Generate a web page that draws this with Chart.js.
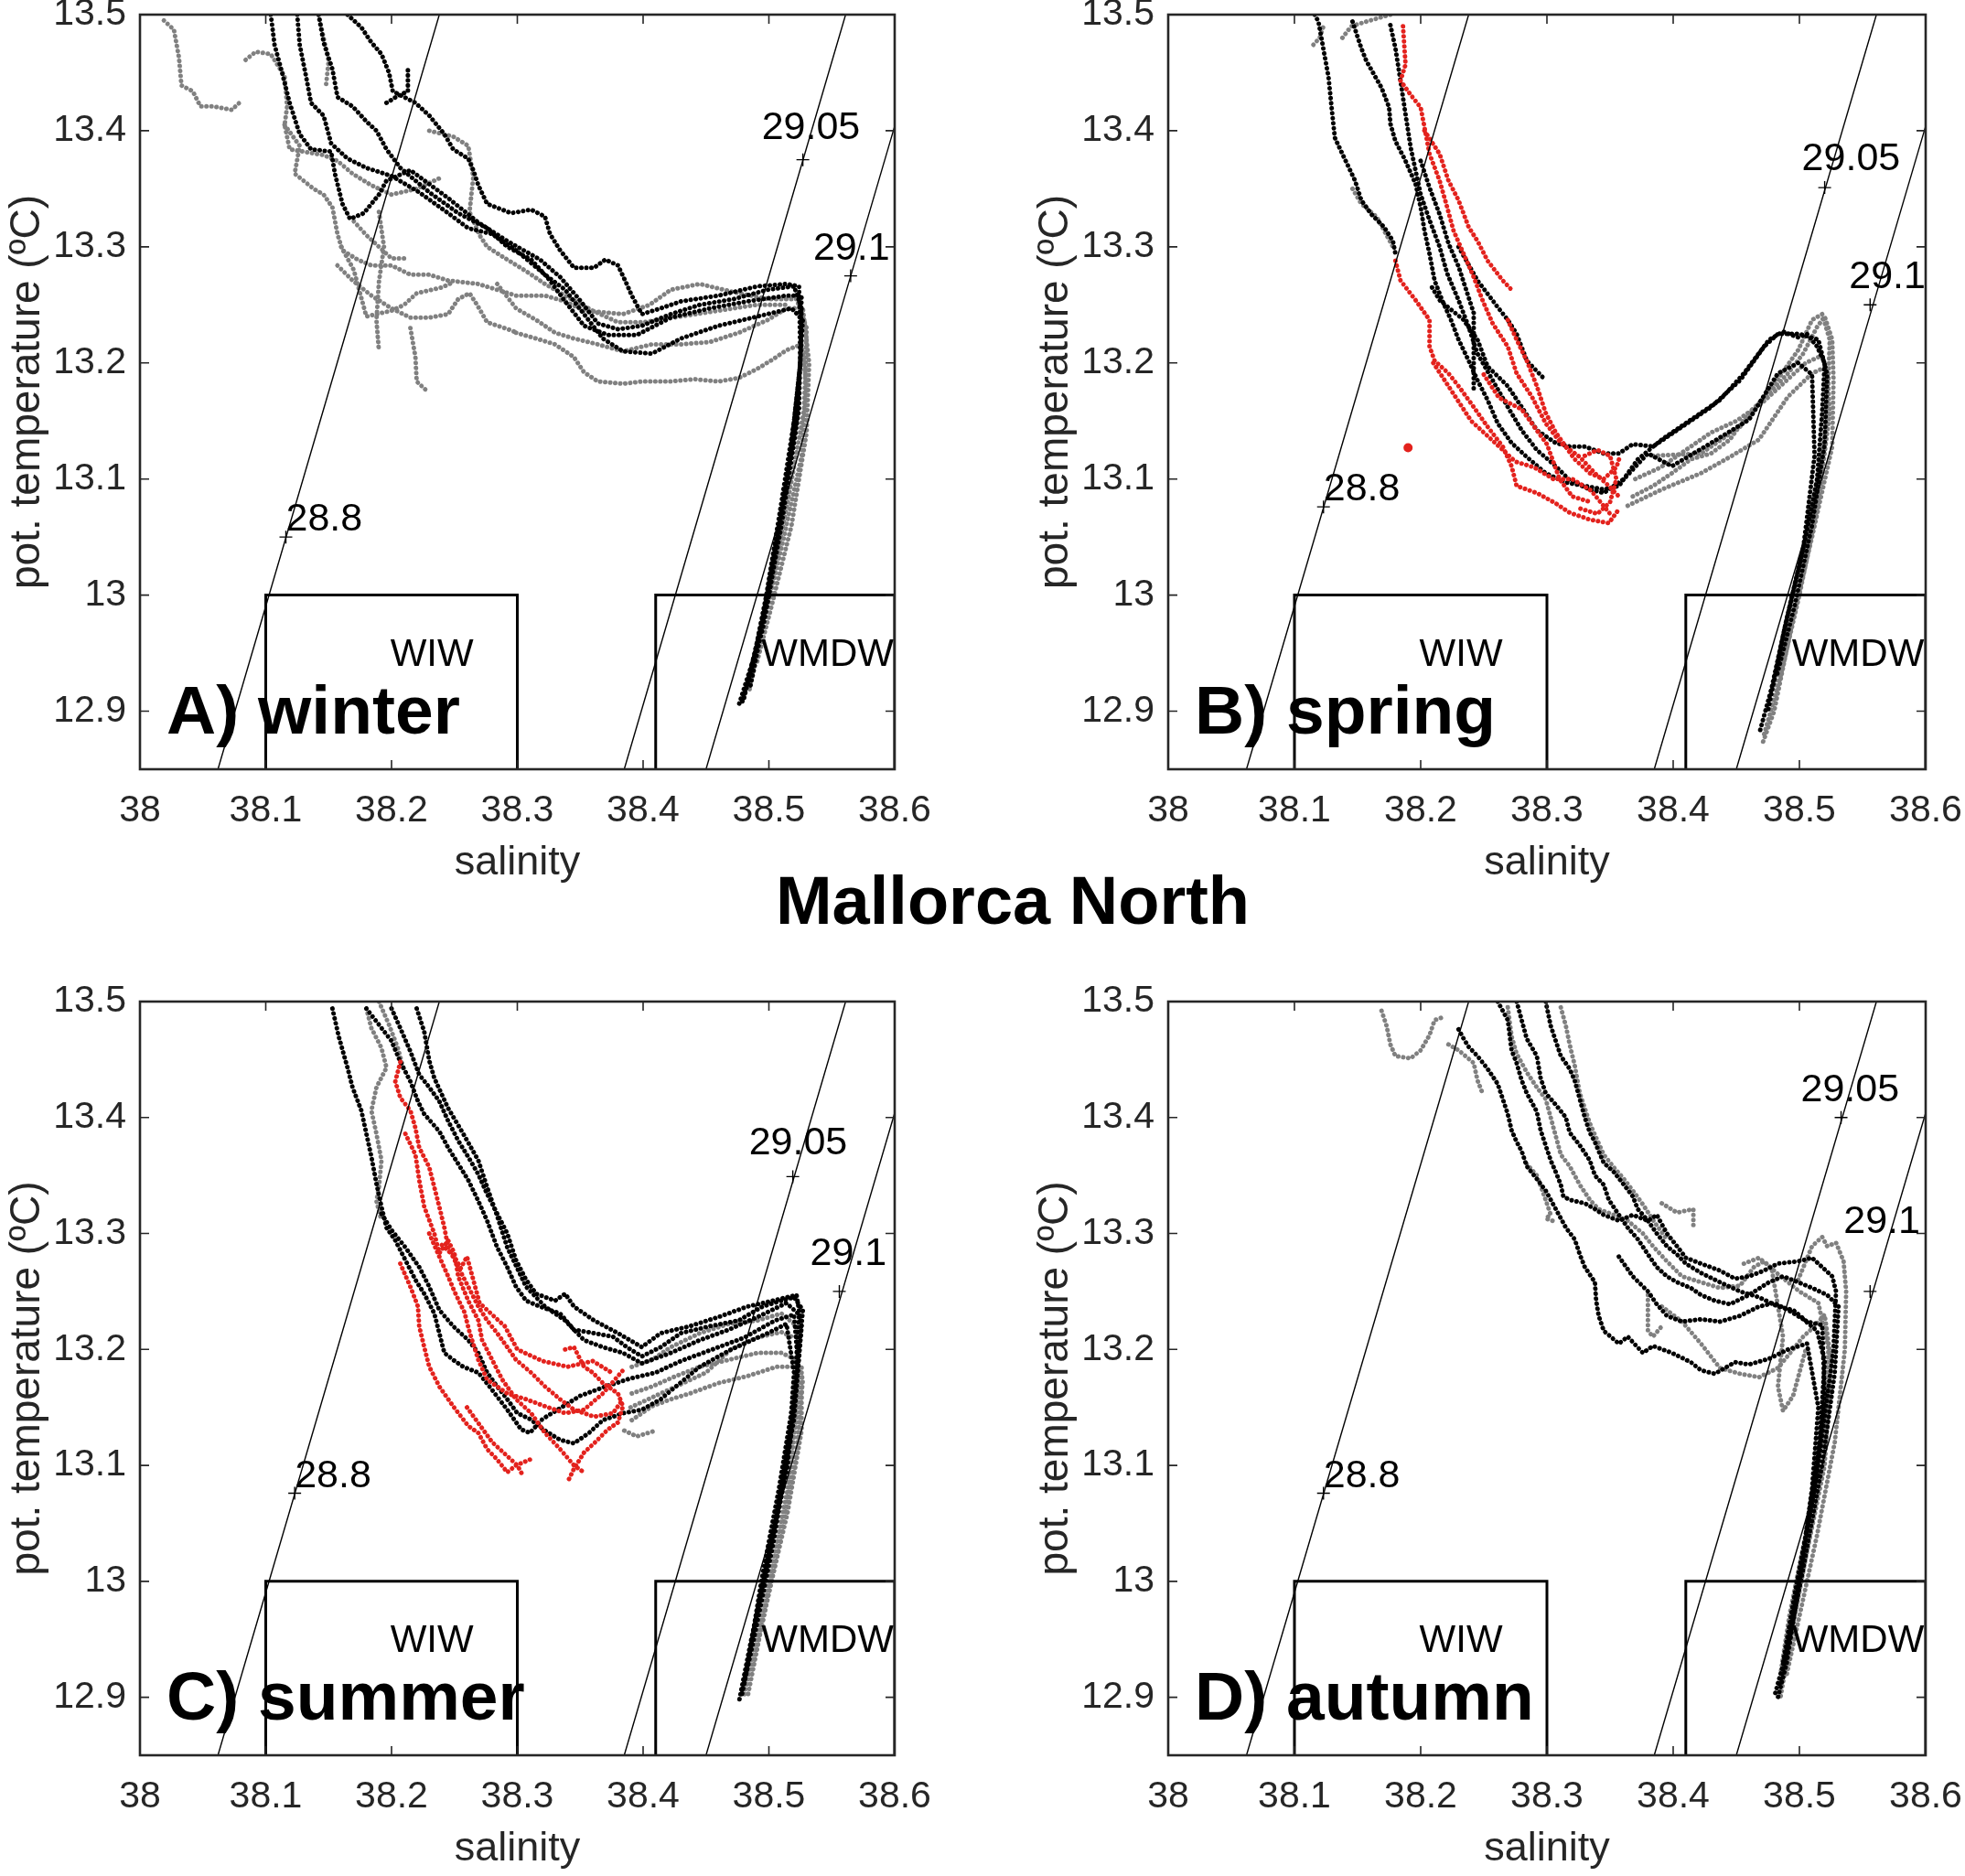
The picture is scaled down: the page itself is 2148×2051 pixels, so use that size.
<!DOCTYPE html>
<html>
<head>
<meta charset="utf-8">
<script src="https://cdn.jsdelivr.net/npm/chart.js@4.4.1/dist/chart.umd.min.js"></script>
<style>
  body { margin: 0; background: #fff; width: 2148px; height: 2051px; position: relative; overflow: hidden; }
  canvas { position: absolute; }
  #title { position: absolute; left: 1107px; top: 948px; transform: translateX(-50%);
           font: bold 74px "Liberation Sans", Arial, sans-serif; line-height: 74px; white-space: nowrap; color: #000; }
</style>
</head>
<body>
<canvas id="cA" width="1074" height="975" style="left:0;top:0"></canvas>
<canvas id="cB" width="1074" height="975" style="left:1074px;top:0"></canvas>
<canvas id="cC" width="1074" height="975" style="left:0;top:1075px"></canvas>
<canvas id="cD" width="1074" height="975" style="left:1074px;top:1075px"></canvas>
<div id="title">Mallorca North</div>
<script>
// axes
var xTicks = [38, 38.1, 38.2, 38.3, 38.4, 38.5, 38.6];
var yTicks = [12.9, 13, 13.1, 13.2, 13.3, 13.4, 13.5];

// isopycnals (salinity, pot. temperature)
var densityLabels = ['28.8', '29.05', '29.1'];
var sigma288 = [[38.062, 12.85], [38.238, 13.5]];
var sigma2905 = [[38.385, 12.85], [38.561, 13.5]];
var sigma291 = [[38.450, 12.85], [38.626, 13.5]];

// water mass boxes
var wiwBox = [[38.1, 12.85], [38.1, 13.0], [38.3, 13.0], [38.3, 12.85]];
var wmdwBox = [[38.41, 12.85], [38.41, 13.0], [38.6, 13.0], [38.6, 12.85]];

// label crosses on the isopycnals, per season
var winterMarks = [[38.116, 13.05], [38.527, 13.375], [38.565, 13.275]];
var springMarks = [[38.123, 13.076], [38.52, 13.351], [38.556, 13.25]];
var summerMarks = [[38.123, 13.076], [38.519, 13.349], [38.556, 13.25]];
var autumnMarks = [[38.123, 13.076], [38.533, 13.4], [38.556, 13.25]];

// ---- A) winter ----
var winterBlack = [
  [[38.104,13.5],[38.107,13.474],[38.113,13.45],[38.119,13.424],[38.127,13.397],[38.136,13.384],[38.152,13.382],[38.155,13.363],[38.161,13.337],[38.167,13.324],[38.178,13.329],[38.19,13.345],[38.196,13.357],[38.215,13.366],[38.245,13.342],[38.269,13.321],[38.292,13.305],[38.318,13.289],[38.334,13.274],[38.349,13.255],[38.364,13.234],[38.38,13.229],[38.399,13.232],[38.422,13.242],[38.445,13.25],[38.472,13.255],[38.499,13.263],[38.52,13.266],[38.526,13.247],[38.525,13.2],[38.52,13.15],[38.51,13.08],[38.498,13.0],[38.487,12.94],[38.478,12.905]],
  [[38.125,13.5],[38.127,13.474],[38.132,13.447],[38.136,13.424],[38.146,13.413],[38.152,13.389],[38.165,13.376],[38.18,13.368],[38.2,13.361],[38.222,13.347],[38.245,13.329],[38.261,13.316],[38.28,13.311],[38.299,13.297],[38.322,13.276],[38.338,13.263],[38.353,13.242],[38.368,13.221],[38.384,13.21],[38.407,13.208],[38.43,13.221],[38.46,13.232],[38.491,13.24],[38.518,13.247],[38.527,13.237],[38.522,13.15],[38.508,13.06],[38.495,12.98],[38.48,12.91]],
  [[38.142,13.5],[38.146,13.476],[38.153,13.453],[38.157,13.429],[38.169,13.421],[38.18,13.408],[38.188,13.4],[38.196,13.384],[38.207,13.368],[38.23,13.347],[38.253,13.329],[38.276,13.316],[38.292,13.3],[38.311,13.289],[38.326,13.271],[38.338,13.253],[38.353,13.232],[38.372,13.224],[38.395,13.224],[38.422,13.239],[38.453,13.247],[38.483,13.253],[38.514,13.258],[38.526,13.258],[38.524,13.16],[38.51,13.06],[38.495,12.97],[38.476,12.905]],
  [[38.165,13.5],[38.176,13.489],[38.184,13.476],[38.192,13.466],[38.198,13.45],[38.201,13.434],[38.219,13.424],[38.23,13.413],[38.242,13.397],[38.249,13.384],[38.261,13.376],[38.265,13.366],[38.269,13.353],[38.276,13.337],[38.295,13.329],[38.311,13.332],[38.322,13.326],[38.326,13.311],[38.334,13.297],[38.345,13.282],[38.361,13.282],[38.37,13.289],[38.38,13.284],[38.387,13.268],[38.391,13.258],[38.399,13.242],[38.414,13.247],[38.43,13.253],[38.46,13.258],[38.491,13.266],[38.514,13.268],[38.524,13.266],[38.525,13.2],[38.515,13.1],[38.5,13.0],[38.485,12.92]],
  [[38.196,13.424],[38.205,13.43],[38.213,13.434],[38.213,13.455]]
];
var winterGray = [
  [[38.019,13.495],[38.027,13.487],[38.031,13.463],[38.033,13.439],[38.042,13.434],[38.048,13.421],[38.058,13.421],[38.073,13.418],[38.079,13.424]],
  [[38.084,13.461],[38.092,13.468],[38.104,13.466],[38.115,13.447],[38.117,13.421],[38.115,13.405],[38.119,13.384],[38.13,13.382],[38.146,13.379],[38.157,13.374],[38.169,13.363],[38.184,13.353],[38.2,13.345],[38.22,13.35],[38.24,13.36]],
  [[38.115,13.405],[38.127,13.387],[38.123,13.363],[38.13,13.357],[38.138,13.35],[38.146,13.345],[38.153,13.334],[38.157,13.311],[38.161,13.297],[38.173,13.289],[38.184,13.284],[38.2,13.284],[38.215,13.276],[38.23,13.276],[38.245,13.271],[38.269,13.268],[38.284,13.263],[38.299,13.258],[38.322,13.258],[38.338,13.253],[38.353,13.245],[38.384,13.242],[38.405,13.25],[38.422,13.263],[38.445,13.268],[38.472,13.261],[38.499,13.255],[38.522,13.255],[38.53,13.23],[38.528,13.16],[38.515,13.08],[38.5,13.0],[38.49,12.95],[38.484,12.915]],
  [[38.157,13.284],[38.169,13.271],[38.184,13.258],[38.2,13.247],[38.215,13.239],[38.23,13.239],[38.245,13.242],[38.253,13.255],[38.262,13.26],[38.268,13.25],[38.276,13.235],[38.29,13.23],[38.3,13.226]],
  [[38.19,13.33],[38.194,13.3],[38.19,13.27],[38.188,13.237],[38.19,13.21]],
  [[38.215,13.23],[38.219,13.205],[38.22,13.184],[38.228,13.176]],
  [[38.16,13.3],[38.17,13.28],[38.175,13.26],[38.18,13.24],[38.2,13.245],[38.21,13.25],[38.22,13.26],[38.24,13.265],[38.25,13.27]],
  [[38.17,13.322],[38.18,13.31],[38.19,13.3],[38.2,13.29],[38.21,13.29]],
  [[38.299,13.226],[38.315,13.221],[38.33,13.216],[38.345,13.205],[38.353,13.192],[38.364,13.184],[38.384,13.182],[38.399,13.184],[38.422,13.184],[38.441,13.186],[38.46,13.184],[38.476,13.187],[38.491,13.195],[38.503,13.203],[38.514,13.211],[38.526,13.216],[38.53,13.18],[38.526,13.12],[38.512,13.05],[38.497,12.98],[38.487,12.93]],
  [[38.284,13.268],[38.299,13.247],[38.315,13.237],[38.33,13.226],[38.345,13.221],[38.364,13.216],[38.384,13.21],[38.407,13.216],[38.43,13.216],[38.453,13.218],[38.476,13.226],[38.499,13.237],[38.514,13.247],[38.527,13.247],[38.532,13.2],[38.53,13.14],[38.518,13.06],[38.502,12.99],[38.49,12.94]],
  [[38.23,13.4],[38.249,13.395],[38.261,13.387],[38.265,13.36],[38.262,13.33],[38.27,13.31],[38.276,13.3],[38.292,13.289],[38.307,13.279],[38.322,13.268],[38.338,13.258],[38.36,13.245],[38.38,13.235],[38.4,13.235],[38.43,13.24],[38.46,13.245],[38.49,13.25],[38.515,13.25]],
  [[38.142,13.5],[38.146,13.48],[38.15,13.46],[38.148,13.44]]
];

// ---- B) spring ----
var springBlack = [
  [[38.116,13.5],[38.119,13.494],[38.127,13.446],[38.13,13.414],[38.132,13.394],[38.138,13.38],[38.148,13.357],[38.153,13.34],[38.161,13.328],[38.171,13.317],[38.178,13.305],[38.18,13.294]],
  [[38.146,13.494],[38.153,13.471],[38.157,13.46],[38.169,13.437],[38.175,13.42],[38.176,13.406],[38.18,13.391],[38.188,13.374],[38.196,13.354],[38.2,13.334],[38.203,13.314],[38.207,13.294],[38.211,13.271],[38.217,13.254],[38.224,13.237],[38.23,13.22],[38.238,13.202],[38.245,13.185],[38.253,13.168],[38.261,13.148],[38.272,13.131],[38.284,13.119],[38.299,13.105],[38.315,13.097],[38.33,13.094],[38.345,13.091],[38.357,13.094],[38.372,13.117],[38.391,13.134],[38.414,13.151],[38.437,13.168],[38.456,13.191],[38.476,13.22],[38.487,13.227],[38.499,13.222],[38.506,13.225],[38.514,13.214],[38.52,13.2],[38.518,13.157],[38.514,13.1],[38.505,13.05],[38.49,12.98],[38.478,12.92],[38.468,12.88]],
  [[38.176,13.491],[38.18,13.471],[38.184,13.443],[38.188,13.414],[38.192,13.386],[38.2,13.345],[38.207,13.323],[38.215,13.3],[38.221,13.277],[38.23,13.254],[38.238,13.231],[38.245,13.208],[38.257,13.185],[38.269,13.162],[38.28,13.142],[38.292,13.125],[38.307,13.111],[38.318,13.099],[38.334,13.091],[38.345,13.088],[38.361,13.1],[38.38,13.122],[38.399,13.111],[38.43,13.131],[38.46,13.151],[38.483,13.191],[38.499,13.2],[38.51,13.19],[38.512,13.12],[38.503,13.04],[38.488,12.97],[38.475,12.9]],
  [[38.2,13.374],[38.207,13.351],[38.215,13.328],[38.222,13.303],[38.23,13.283],[38.236,13.263],[38.242,13.243],[38.242,13.21],[38.242,13.177]],
  [[38.209,13.265],[38.215,13.254],[38.234,13.237],[38.245,13.22],[38.253,13.197],[38.269,13.18],[38.28,13.162],[38.292,13.142],[38.307,13.131],[38.318,13.128],[38.33,13.128],[38.345,13.122],[38.357,13.122],[38.368,13.13],[38.384,13.128],[38.407,13.145],[38.43,13.162],[38.453,13.185],[38.472,13.214],[38.483,13.225],[38.5,13.225],[38.515,13.22],[38.522,13.19],[38.52,13.13],[38.51,13.06],[38.496,12.99],[38.482,12.93]],
  [[38.23,13.3],[38.245,13.271],[38.261,13.248],[38.269,13.237],[38.276,13.225],[38.284,13.202],[38.299,13.185]]
];
var springGray = [
  [[38.115,13.474],[38.12,13.48],[38.123,13.49]],
  [[38.138,13.48],[38.145,13.49],[38.16,13.495],[38.176,13.5]],
  [[38.146,13.35],[38.153,13.337],[38.165,13.326],[38.178,13.3]],
  [[38.368,13.085],[38.384,13.094],[38.399,13.105],[38.414,13.117],[38.43,13.122],[38.445,13.134],[38.46,13.157],[38.476,13.174],[38.491,13.191],[38.503,13.208],[38.514,13.231],[38.52,13.24],[38.526,13.22],[38.527,13.185],[38.526,13.128],[38.51,13.05],[38.495,12.98],[38.48,12.9],[38.47,12.87]],
  [[38.364,13.077],[38.391,13.091],[38.422,13.105],[38.445,13.119],[38.468,13.134],[38.491,13.171],[38.51,13.191],[38.522,13.197],[38.524,13.157],[38.515,13.08],[38.5,13.0],[38.485,12.93],[38.472,12.88]],
  [[38.384,13.12],[38.422,13.122],[38.453,13.145],[38.479,13.18],[38.499,13.211],[38.51,13.237],[38.518,13.242],[38.524,13.22],[38.522,13.15],[38.508,13.06],[38.493,12.99],[38.48,12.92]],
  [[38.37,13.1],[38.39,13.11],[38.41,13.125],[38.43,13.14],[38.45,13.15],[38.47,13.165],[38.49,13.185],[38.505,13.2],[38.515,13.205]]
];
var springRed = [
  [[38.186,13.49],[38.188,13.457],[38.184,13.443],[38.192,13.431],[38.2,13.42],[38.203,13.403],[38.207,13.38],[38.215,13.357],[38.221,13.334],[38.226,13.314],[38.234,13.294],[38.242,13.274],[38.249,13.254],[38.257,13.234],[38.269,13.214],[38.276,13.191],[38.288,13.171],[38.299,13.148],[38.311,13.131],[38.326,13.119],[38.338,13.105],[38.349,13.094],[38.357,13.085]],
  [[38.203,13.4],[38.215,13.38],[38.222,13.357],[38.23,13.34],[38.238,13.317],[38.245,13.305],[38.253,13.288],[38.265,13.271],[38.272,13.263]],
  [[38.18,13.288],[38.184,13.271],[38.196,13.254],[38.207,13.237],[38.207,13.214],[38.211,13.202],[38.222,13.191],[38.23,13.18],[38.242,13.162],[38.253,13.145],[38.265,13.128],[38.272,13.111],[38.276,13.094],[38.292,13.088],[38.307,13.079],[38.318,13.071],[38.334,13.065],[38.349,13.062],[38.357,13.074]],
  [[38.269,13.237],[38.276,13.22],[38.284,13.202],[38.292,13.18],[38.299,13.157],[38.307,13.14],[38.322,13.117],[38.334,13.105],[38.345,13.1],[38.355,13.11],[38.358,13.12]],
  [[38.25,13.19],[38.262,13.17],[38.28,13.16],[38.3,13.13],[38.31,13.1],[38.32,13.085],[38.335,13.08]],
  [[38.21,13.2],[38.225,13.175],[38.24,13.15],[38.26,13.13],[38.275,13.115],[38.29,13.11],[38.305,13.1],[38.32,13.1],[38.335,13.09],[38.35,13.07]],
  [[38.33,13.12],[38.34,13.125],[38.35,13.12],[38.355,13.1],[38.35,13.08],[38.34,13.07],[38.325,13.075]],
  [[38.19,13.127]]
];

// ---- C) summer ----
var summerBlack = [
  [[38.153,13.494],[38.158,13.47],[38.165,13.443],[38.169,13.426],[38.176,13.406],[38.18,13.386],[38.184,13.366],[38.188,13.343],[38.192,13.323],[38.196,13.305],[38.203,13.294],[38.211,13.277],[38.219,13.26],[38.226,13.248],[38.234,13.231],[38.238,13.214],[38.242,13.197],[38.249,13.191],[38.257,13.185],[38.269,13.18],[38.28,13.165],[38.292,13.148],[38.303,13.131],[38.31,13.128],[38.32,13.14],[38.335,13.15],[38.35,13.16],[38.37,13.168],[38.39,13.175],[38.41,13.18],[38.43,13.19],[38.455,13.2],[38.48,13.21],[38.505,13.225],[38.52,13.23],[38.523,13.19],[38.517,13.12],[38.503,13.03],[38.488,12.95],[38.478,12.9]],
  [[38.18,13.494],[38.19,13.48],[38.2,13.466],[38.207,13.448],[38.215,13.431],[38.221,13.414],[38.226,13.403],[38.238,13.388],[38.245,13.374],[38.253,13.36],[38.261,13.346],[38.269,13.328],[38.276,13.311],[38.284,13.288],[38.292,13.271],[38.299,13.254],[38.307,13.242],[38.318,13.237],[38.334,13.231],[38.345,13.217],[38.361,13.214],[38.376,13.211],[38.387,13.202],[38.399,13.194],[38.414,13.202],[38.43,13.214],[38.453,13.22],[38.476,13.225],[38.495,13.237],[38.51,13.242],[38.52,13.245],[38.527,13.234],[38.52,13.15],[38.505,13.05],[38.49,12.97],[38.478,12.9]],
  [[38.2,13.494],[38.207,13.477],[38.215,13.457],[38.222,13.437],[38.23,13.426],[38.238,13.414],[38.245,13.397],[38.253,13.38],[38.261,13.366],[38.269,13.351],[38.276,13.334],[38.284,13.317],[38.292,13.3],[38.299,13.277],[38.307,13.26],[38.315,13.248],[38.33,13.242],[38.338,13.248],[38.345,13.237],[38.361,13.225],[38.38,13.214],[38.399,13.202],[38.414,13.214],[38.437,13.22],[38.46,13.228],[38.483,13.237],[38.503,13.242],[38.522,13.247],[38.526,13.22],[38.52,13.14],[38.507,13.06],[38.492,12.98],[38.48,12.91]],
  [[38.22,13.494],[38.226,13.474],[38.23,13.449],[38.234,13.434],[38.245,13.408],[38.257,13.386],[38.269,13.363],[38.276,13.34],[38.284,13.315],[38.292,13.288],[38.307,13.254],[38.322,13.237],[38.338,13.225],[38.353,13.208],[38.368,13.202],[38.384,13.197],[38.399,13.188],[38.422,13.197],[38.445,13.208],[38.468,13.217],[38.491,13.228],[38.514,13.24],[38.524,13.23],[38.52,13.16],[38.508,13.08],[38.494,13.0],[38.482,12.92]],
  [[38.192,13.317],[38.2,13.303],[38.211,13.288],[38.222,13.271],[38.23,13.254],[38.238,13.234],[38.249,13.22],[38.261,13.208],[38.269,13.197],[38.276,13.18],[38.284,13.168],[38.292,13.157],[38.3,13.145],[38.31,13.14],[38.322,13.13],[38.334,13.122],[38.345,13.119],[38.357,13.128],[38.368,13.139],[38.384,13.145],[38.399,13.148],[38.414,13.157],[38.426,13.168],[38.445,13.185],[38.47,13.2],[38.499,13.214],[38.514,13.222],[38.52,13.18],[38.515,13.1],[38.5,13.02],[38.486,12.95],[38.476,12.895]]
];
var summerGray = [
  [[38.18,13.494],[38.184,13.477],[38.192,13.46],[38.196,13.443],[38.188,13.426],[38.184,13.406],[38.188,13.386],[38.192,13.363],[38.19,13.34],[38.188,13.328],[38.192,13.311]],
  [[38.19,13.5],[38.198,13.48],[38.205,13.46],[38.21,13.44]],
  [[38.391,13.185],[38.407,13.191],[38.422,13.202],[38.445,13.214],[38.468,13.222],[38.491,13.225],[38.51,13.231],[38.522,13.22],[38.524,13.16],[38.515,13.08],[38.5,13.0],[38.488,12.94],[38.48,12.9]],
  [[38.391,13.162],[38.407,13.168],[38.426,13.177],[38.445,13.185],[38.468,13.191],[38.491,13.197],[38.51,13.197],[38.522,13.191],[38.527,13.174],[38.522,13.11],[38.508,13.03],[38.494,12.96],[38.483,12.9]],
  [[38.391,13.139],[38.407,13.151],[38.422,13.157],[38.437,13.162],[38.46,13.171],[38.483,13.177],[38.506,13.185],[38.526,13.185],[38.526,13.13],[38.515,13.06],[38.5,12.99],[38.486,12.92]],
  [[38.385,13.13],[38.395,13.125],[38.41,13.13]],
  [[38.39,13.15],[38.41,13.16],[38.43,13.17],[38.45,13.18],[38.47,13.2],[38.49,13.21],[38.51,13.215],[38.52,13.21]]
];
var summerRed = [
  [[38.207,13.448],[38.203,13.431],[38.207,13.417],[38.215,13.406],[38.219,13.391],[38.222,13.374],[38.23,13.357],[38.234,13.34],[38.238,13.323],[38.242,13.305],[38.245,13.288],[38.253,13.271],[38.261,13.254],[38.269,13.237],[38.276,13.225],[38.284,13.214],[38.292,13.202],[38.299,13.191],[38.311,13.18],[38.322,13.168],[38.334,13.157],[38.345,13.148],[38.361,13.142],[38.376,13.145],[38.384,13.157]],
  [[38.211,13.386],[38.219,13.368],[38.222,13.346],[38.226,13.323],[38.234,13.3],[38.238,13.283],[38.245,13.294],[38.25,13.283],[38.253,13.263],[38.261,13.242],[38.269,13.225],[38.272,13.208],[38.28,13.191],[38.288,13.174],[38.299,13.157],[38.311,13.145],[38.322,13.128],[38.334,13.114],[38.345,13.1],[38.353,13.094]],
  [[38.207,13.274],[38.215,13.254],[38.221,13.237],[38.222,13.22],[38.226,13.202],[38.23,13.185],[38.238,13.168],[38.249,13.151],[38.261,13.134],[38.269,13.128],[38.276,13.114],[38.284,13.105],[38.292,13.094],[38.299,13.1],[38.31,13.105]],
  [[38.23,13.3],[38.238,13.28],[38.245,13.263],[38.25,13.25],[38.258,13.232],[38.262,13.215],[38.269,13.191],[38.276,13.174],[38.292,13.162],[38.307,13.157],[38.322,13.151],[38.338,13.145],[38.353,13.148],[38.368,13.162],[38.384,13.182]],
  [[38.338,13.2],[38.345,13.202],[38.353,13.185],[38.36,13.18],[38.368,13.171],[38.38,13.162],[38.384,13.151],[38.38,13.137],[38.372,13.131],[38.361,13.119],[38.353,13.111],[38.345,13.097],[38.341,13.088]],
  [[38.24,13.29],[38.25,13.28],[38.255,13.27],[38.26,13.28],[38.265,13.26],[38.27,13.24],[38.28,13.23],[38.29,13.22],[38.3,13.2],[38.32,13.19],[38.34,13.185],[38.36,13.19],[38.375,13.18]],
  [[38.26,13.15],[38.27,13.135],[38.28,13.12],[38.29,13.11],[38.3,13.1],[38.305,13.09]]
];

// ---- D) autumn ----
var autumnBlack = [
  [[38.23,13.476],[38.234,13.468],[38.238,13.461],[38.245,13.453],[38.253,13.442],[38.261,13.429],[38.265,13.416],[38.269,13.403],[38.272,13.389],[38.276,13.379],[38.28,13.371],[38.284,13.358],[38.292,13.347],[38.299,13.337],[38.307,13.321],[38.315,13.305],[38.322,13.295],[38.326,13.282],[38.33,13.271],[38.338,13.258],[38.339,13.242],[38.341,13.229],[38.345,13.216],[38.357,13.205],[38.364,13.211],[38.376,13.197],[38.384,13.203],[38.399,13.197],[38.414,13.189],[38.422,13.182],[38.433,13.179],[38.449,13.189],[38.46,13.187],[38.476,13.192],[38.491,13.2],[38.506,13.205],[38.515,13.15],[38.51,13.08],[38.5,13.0],[38.49,12.93],[38.483,12.9]],
  [[38.261,13.5],[38.269,13.484],[38.272,13.458],[38.276,13.447],[38.28,13.432],[38.284,13.421],[38.292,13.405],[38.295,13.389],[38.299,13.376],[38.303,13.363],[38.307,13.353],[38.311,13.342],[38.313,13.332],[38.318,13.329],[38.33,13.326],[38.338,13.321],[38.345,13.316],[38.357,13.311],[38.368,13.316],[38.38,13.311],[38.387,13.316],[38.395,13.3],[38.403,13.289],[38.41,13.279],[38.422,13.274],[38.437,13.268],[38.449,13.261],[38.46,13.263],[38.472,13.268],[38.483,13.274],[38.499,13.276],[38.51,13.279],[38.518,13.271],[38.526,13.263],[38.529,13.25],[38.527,13.2],[38.515,13.1],[38.5,13.0],[38.49,12.94],[38.48,12.9]],
  [[38.276,13.5],[38.28,13.484],[38.284,13.468],[38.292,13.453],[38.295,13.434],[38.299,13.421],[38.307,13.411],[38.315,13.4],[38.318,13.387],[38.326,13.376],[38.334,13.363],[38.338,13.35],[38.345,13.342],[38.349,13.329],[38.357,13.316],[38.364,13.305],[38.372,13.295],[38.38,13.282],[38.387,13.271],[38.395,13.263],[38.403,13.258],[38.414,13.253],[38.422,13.247],[38.433,13.242],[38.445,13.239],[38.46,13.247],[38.476,13.258],[38.487,13.263],[38.499,13.258],[38.51,13.253],[38.522,13.247],[38.531,13.237],[38.528,13.18],[38.518,13.1],[38.503,13.01],[38.49,12.94],[38.484,12.91]],
  [[38.299,13.5],[38.303,13.479],[38.311,13.453],[38.318,13.442],[38.322,13.432],[38.326,13.416],[38.33,13.4],[38.334,13.387],[38.338,13.379],[38.341,13.371],[38.345,13.361],[38.353,13.353],[38.361,13.342],[38.368,13.332],[38.372,13.321],[38.38,13.311],[38.387,13.3],[38.395,13.289],[38.403,13.282],[38.41,13.274],[38.422,13.266],[38.437,13.258],[38.453,13.25],[38.468,13.245],[38.483,13.237],[38.495,13.234],[38.506,13.224],[38.518,13.221],[38.52,13.16],[38.512,13.08],[38.498,13.0],[38.487,12.93]],
  [[38.357,13.28],[38.368,13.263],[38.38,13.25],[38.387,13.239],[38.395,13.229],[38.407,13.224],[38.422,13.226],[38.437,13.224],[38.453,13.229],[38.468,13.237],[38.48,13.24],[38.491,13.234],[38.503,13.226],[38.514,13.216],[38.52,13.19],[38.516,13.12],[38.505,13.04]]
];
var autumnGray = [
  [[38.169,13.492],[38.173,13.479],[38.176,13.463],[38.18,13.453],[38.192,13.451],[38.2,13.458],[38.207,13.471],[38.211,13.484],[38.219,13.487]],
  [[38.222,13.463],[38.23,13.458],[38.242,13.447],[38.245,13.432],[38.249,13.421]],
  [[38.269,13.495],[38.272,13.47],[38.276,13.455],[38.284,13.439],[38.292,13.426],[38.299,13.416],[38.303,13.4],[38.307,13.384],[38.311,13.368],[38.318,13.358],[38.326,13.342],[38.334,13.329],[38.341,13.321],[38.353,13.316],[38.364,13.311],[38.376,13.3],[38.384,13.289],[38.395,13.276],[38.407,13.263],[38.422,13.258],[38.437,13.253],[38.453,13.255],[38.464,13.271],[38.472,13.276],[38.483,13.265],[38.5,13.25],[38.515,13.24],[38.523,13.2],[38.518,13.12],[38.505,13.04],[38.492,12.97],[38.485,12.92]],
  [[38.311,13.495],[38.315,13.479],[38.318,13.463],[38.322,13.445],[38.326,13.421],[38.33,13.408],[38.334,13.395],[38.338,13.385],[38.345,13.368],[38.353,13.357],[38.361,13.347],[38.368,13.337],[38.376,13.325],[38.385,13.31],[38.395,13.295]],
  [[38.284,13.36],[38.292,13.35],[38.299,13.329],[38.303,13.316],[38.299,13.313],[38.307,13.31]],
  [[38.391,13.326],[38.403,13.318],[38.416,13.321],[38.416,13.305]],
  [[38.38,13.247],[38.38,13.216],[38.384,13.211],[38.391,13.22]],
  [[38.391,13.237],[38.407,13.224],[38.422,13.205],[38.437,13.184],[38.453,13.179],[38.468,13.176],[38.483,13.184],[38.495,13.2],[38.503,13.211],[38.512,13.22],[38.52,13.23],[38.525,13.19],[38.52,13.1],[38.505,13.02],[38.493,12.95],[38.485,12.9]],
  [[38.456,13.274],[38.468,13.279],[38.478,13.27],[38.487,13.211],[38.483,13.168],[38.487,13.147],[38.495,13.16],[38.505,13.2]],
  [[38.499,13.26],[38.51,13.289],[38.518,13.297],[38.522,13.289],[38.529,13.292],[38.535,13.276],[38.537,13.25],[38.536,13.2],[38.528,13.12],[38.514,13.04],[38.5,12.97],[38.49,12.92]]
];

var FONT = '"Liberation Sans", Arial, Helvetica, sans-serif';
var INK = '#262626';
var GRAY = '#808080', BLACK = '#000000', RED = '#e3221d';

function xy(pts) { return pts.map(function(p) { return {x: p[0], y: p[1]}; }); }

function profileSets(list, color) {
  return list.map(function(p) {
    return {
      data: xy(p), showLine: true, borderColor: color, backgroundColor: color,
      borderWidth: 5, borderDash: [0.1, 5.4], borderCapStyle: 'round', borderJoinStyle: 'round',
      pointRadius: p.length === 1 ? 2.5 : 0, tension: 0
    };
  });
}

function plainLine(pts, width) {
  return { data: xy(pts), showLine: true, borderColor: '#000', borderWidth: width, pointRadius: 0, tension: 0 };
}

// inward ticks, frame and the texts in the axes
var panelDecor = {
  id: 'panelDecor',
  afterDraw: function(chart, args, o) {
    var ctx = chart.ctx, a = chart.chartArea, x = chart.scales.x, y = chart.scales.y;
    ctx.save();
    ctx.strokeStyle = INK;
    ctx.lineWidth = 1.6;
    ctx.beginPath();
    xTicks.forEach(function(v) {
      var p = x.getPixelForValue(v);
      ctx.moveTo(p, a.bottom); ctx.lineTo(p, a.bottom - 10);
      ctx.moveTo(p, a.top); ctx.lineTo(p, a.top + 10);
    });
    yTicks.forEach(function(v) {
      var p = y.getPixelForValue(v);
      ctx.moveTo(a.left, p); ctx.lineTo(a.left + 10, p);
      ctx.moveTo(a.right, p); ctx.lineTo(a.right - 10, p);
    });
    ctx.stroke();
    ctx.lineWidth = 2.6;
    ctx.strokeRect(a.left, a.top, a.right - a.left, a.bottom - a.top);

    ctx.fillStyle = '#000';
    ctx.textAlign = 'left';
    ctx.textBaseline = 'alphabetic';
    ctx.font = '43px ' + FONT;
    o.marks.forEach(function(m, i) {
      ctx.fillText(densityLabels[i], x.getPixelForValue(m[0]) + o.offsets[i][0], y.getPixelForValue(m[1]) + o.offsets[i][1]);
    });
    ctx.font = '42px ' + FONT;
    ctx.textBaseline = 'middle';
    ctx.fillText('WIW', x.getPixelForValue(38.199), y.getPixelForValue(12.948));
    ctx.fillText('WMDW', x.getPixelForValue(38.494), y.getPixelForValue(12.948));
    ctx.font = 'bold 75px ' + FONT;
    ctx.textBaseline = 'alphabetic';
    ctx.fillText(o.label, a.left + 29, a.bottom - 39);
    ctx.restore();
  }
};

function makePanel(id, label, marks, offsets, red, black, gray, pad) {
  var datasets = [];
  datasets.push({ data: xy(marks), showLine: false, pointStyle: 'cross', pointRadius: 7,
                  borderColor: '#000', pointBorderWidth: 1.4 });
  datasets.push(plainLine(sigma288, 1.4));
  datasets.push(plainLine(sigma2905, 1.4));
  datasets.push(plainLine(sigma291, 1.4));
  datasets.push(plainLine(wiwBox, 3));
  datasets.push(plainLine(wmdwBox, 3));
  datasets = datasets.concat(profileSets(red, RED), profileSets(black, BLACK), profileSets(gray, GRAY));

  new Chart(document.getElementById(id), {
    type: 'scatter',
    data: { datasets: datasets },
    options: {
      responsive: false, animation: false, devicePixelRatio: 1,
      layout: { padding: pad },
      plugins: {
        legend: { display: false }, tooltip: { enabled: false },
        panelDecor: { label: label, marks: marks, offsets: offsets }
      },
      scales: {
        x: {
          type: 'linear', min: 38, max: 38.6,
          afterBuildTicks: function(s) { s.ticks = xTicks.map(function(v) { return {value: v}; }); },
          afterFit: function(s) { s.height = 130; s.paddingLeft = 0; s.paddingRight = 0; },
          grid: { display: false, drawTicks: false }, border: { display: false },
          ticks: { autoSkip: false, maxRotation: 0, padding: 21, color: INK,
                   font: { family: FONT, size: 41 },
                   callback: function(v) { return String(Math.round(v * 10) / 10); } },
          title: { display: true, text: 'salinity', color: INK, padding: 0,
                   font: { family: FONT, size: 45, lineHeight: 1.2 } }
        },
        y: {
          type: 'linear', min: 12.85, max: 13.5,
          afterBuildTicks: function(s) { s.ticks = yTicks.map(function(v) { return {value: v}; }); },
          afterFit: function(s) { s.width = 153; s.paddingTop = 0; s.paddingBottom = 0; },
          grid: { display: false, drawTicks: false }, border: { display: false },
          ticks: { autoSkip: false, padding: 15, color: INK,
                   font: { family: FONT, size: 41 },
                   callback: function(v) { return String(Math.round(v * 10) / 10); } },
          title: { display: true, text: 'pot. temperature (ºC)', color: INK, padding: 0,
                   font: { family: FONT, size: 46, lineHeight: 1.3 } }
        }
      }
    },
    plugins: [panelDecor]
  });
}

makePanel('cA', 'A) winter', winterMarks, [[0, -7], [-45, -23], [-41, -18]],
          [], winterBlack, winterGray, {left: 0, top: 16, right: 96, bottom: 4});
makePanel('cB', 'B) spring', springMarks, [[0, -7], [-25, -19], [-23, -18]],
          springRed, springBlack, springGray, {left: 50, top: 16, right: 43, bottom: 4});
makePanel('cC', 'C) summer', summerMarks, [[0, -7], [-48, -24], [-32, -29]],
          summerRed, summerBlack, summerGray, {left: 0, top: 20, right: 96, bottom: 1});
makePanel('cD', 'D) autumn', autumnMarks, [[0, -7], [-44, -18], [-29, -64]],
          [], autumnBlack, autumnGray, {left: 50, top: 20, right: 43, bottom: 1});
</script>
</body>
</html>
